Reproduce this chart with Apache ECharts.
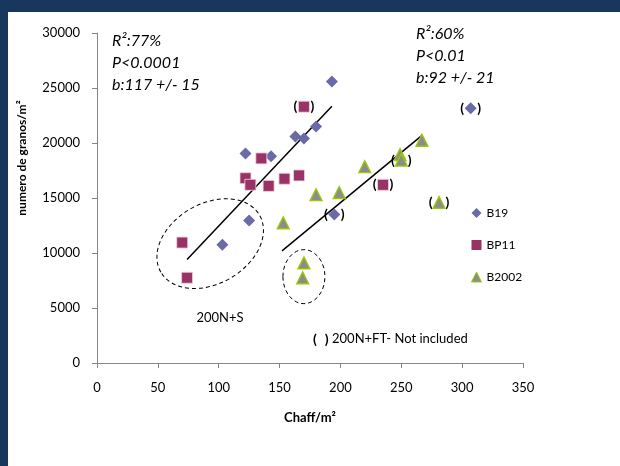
<!DOCTYPE html>
<html>
<head>
<meta charset="utf-8">
<script src="https://cdn.jsdelivr.net/npm/echarts@6/dist/echarts.min.js"></script>
<style>
body { margin: 0; background: #17375e; width: 620px; height: 466px; overflow: hidden; position: relative; }
#chart { position: absolute; left: 8px; top: 12px; width: 612px; height: 454px; background: #fff; }
</style>
</head>
<body>
<div id="chart"></div>
<script>
// datos (Chaff/m2, granos/m2)
const xRange = [0, 350, 50]
const yRange = [0, 30000, 5000]

const b19 = [[193, 25600], [180, 21500], [163, 20600], [170, 20400], [122, 19050], [143, 18800], [125, 12950], [103, 10750]]
const b19Excl = [[195, 13500], [307, 23150]]

const bp11 = [[135, 18600], [122, 16800], [126, 16200], [141, 16100], [154, 16750], [166, 17050], [70, 10950], [74, 7750]]
const bp11Excl = [[170, 23300], [235, 16200]]

const b2002 = [[267, 20250], [249, 18950], [220, 17850], [199, 15500], [180, 15300], [153, 12750], [170, 9100], [169, 7750]]
const b2002Excl = [[250, 18450], [281, 14600]]

// rectas de regresion
const fit1 = [[74, 9400], [193, 23350]]
const fit2 = [[152, 10200], [267, 20700]]

// elipses (centro en coordenadas de datos)
const ellipseS = [93, 10850]
const ellipseFT = [170, 7850]

const FONT = 'Lato'

const parenLabel = {
  show: true,
  position: 'inside',
  formatter: '{p|(}{g|}{p|)}',
  rich: {
    p: { fontFamily: FONT, fontWeight: 'bold', fontSize: 14, color: '#000' },
    g: { width: 13 }
  }
}

function buildData(incl, excl) {
  let d = incl.map(v => ({ value: v }))
  excl.forEach(v => d.push({ value: v, label: parenLabel }))
  return d
}

const chart = echarts.init(document.getElementById('chart'))

function textEl(x, y, text, style, extra) {
  return Object.assign({
    type: 'text',
    x: x,
    y: y,
    style: Object.assign({ text: text, fontFamily: FONT, fill: '#000', verticalAlign: 'middle' }, style)
  }, extra || {})
}

chart.setOption({
  animation: false,
  grid: { left: 89, right: 97, top: 21, bottom: 103 },
  legend: {
    data: [
      { name: 'B19' },
      { name: 'BP11', itemStyle: { borderWidth: 0 } },
      { name: 'B2002', itemStyle: { borderWidth: 1 } }
    ],
    orient: 'vertical',
    left: 463,
    top: 195,
    padding: 0,
    itemWidth: 10,
    itemHeight: 10,
    itemGap: 20,
    textStyle: { fontFamily: FONT, fontSize: 12, color: '#000' }
  },
  xAxis: {
    type: 'value',
    min: xRange[0],
    max: xRange[1],
    interval: xRange[2],
    name: 'Chaff/m²',
    nameLocation: 'middle',
    nameGap: 48,
    nameTextStyle: { fontFamily: FONT, fontWeight: 'bold', fontSize: 13, color: '#000' },
    splitLine: { show: false },
    axisLine: { lineStyle: { color: '#868686' } },
    axisTick: { length: 5, lineStyle: { color: '#868686' } },
    axisLabel: { margin: 18, fontFamily: FONT, fontSize: 13, color: '#000' }
  },
  yAxis: {
    type: 'value',
    min: yRange[0],
    max: yRange[1],
    interval: yRange[2],
    splitLine: { show: false },
    axisLine: { show: true, lineStyle: { color: '#868686' } },
    axisTick: { show: true, length: 5, lineStyle: { color: '#868686' } },
    axisLabel: { margin: 17, fontFamily: FONT, fontSize: 13, color: '#000', formatter: v => String(v) }
  },
  series: [
    {
      name: 'B19',
      type: 'scatter',
      symbol: 'diamond',
      symbolSize: 12,
      itemStyle: { color: '#6a6aa8', opacity: 1 },
      data: buildData(b19, b19Excl),
      z: 3
    },
    {
      name: 'BP11',
      type: 'scatter',
      symbol: 'rect',
      symbolSize: 11,
      itemStyle: { color: '#993366', borderColor: '#f0d4e0', borderWidth: 0.8, opacity: 1 },
      data: buildData(bp11, bp11Excl),
      z: 3
    },
    {
      name: 'B2002',
      type: 'scatter',
      symbol: 'triangle',
      symbolSize: 12,
      itemStyle: { color: '#8c8c8c', borderColor: '#99cc00', borderWidth: 1.3, opacity: 1 },
      data: buildData(b2002, b2002Excl),
      z: 3
    },
    {
      name: 'fit1',
      type: 'line',
      data: fit1,
      symbol: 'none',
      silent: true,
      lineStyle: { color: '#000', width: 1.5 },
      z: 2
    },
    {
      name: 'fit2',
      type: 'line',
      data: fit2,
      symbol: 'none',
      silent: true,
      lineStyle: { color: '#000', width: 1.5 },
      z: 2
    }
  ]
})

// anotaciones y elipses
const e1 = chart.convertToPixel({ gridIndex: 0 }, ellipseS)
const e2 = chart.convertToPixel({ gridIndex: 0 }, ellipseFT)
const dashed = { fill: 'none', stroke: '#000', lineWidth: 1, lineDash: [4, 3] }
const ital = { fontSize: 16, fontStyle: 'italic' }

chart.setOption({
  graphic: [
    { type: 'ellipse', x: e1[0], y: e1[1], rotation: Math.PI / 6, shape: { cx: 0, cy: 0, rx: 57, ry: 40 }, style: dashed, silent: true },
    { type: 'ellipse', x: e2[0], y: e2[1], shape: { cx: 0, cy: 0, rx: 21, ry: 27 }, style: dashed, silent: true },
    textEl(104, 29, 'R²:77%', ital),
    textEl(104, 51, 'P<0.0001', ital),
    textEl(104, 73, 'b:117 +/- 15', ital),
    textEl(408, 22, 'R²:60%', ital),
    textEl(408, 44, 'P<0.01', ital),
    textEl(408, 66, 'b:92 +/- 21', ital),
    textEl(212, 306, '200N+S', { fontSize: 13, align: 'center' }),
    textEl(305, 327, '{p|(}{g|}{p|)}{t| 200N+FT- Not included}', {
      rich: {
        p: { fontFamily: FONT, fontWeight: 'bold', fontSize: 14, fill: '#000' },
        g: { width: 8 },
        t: { fontFamily: FONT, fontSize: 13, fill: '#000' }
      }
    }),
    textEl(14, 146, 'numero de granos/m²', { fontSize: 12, fontWeight: 'bold', align: 'center' }, { rotation: Math.PI / 2 })
  ]
})
</script>
</body>
</html>
